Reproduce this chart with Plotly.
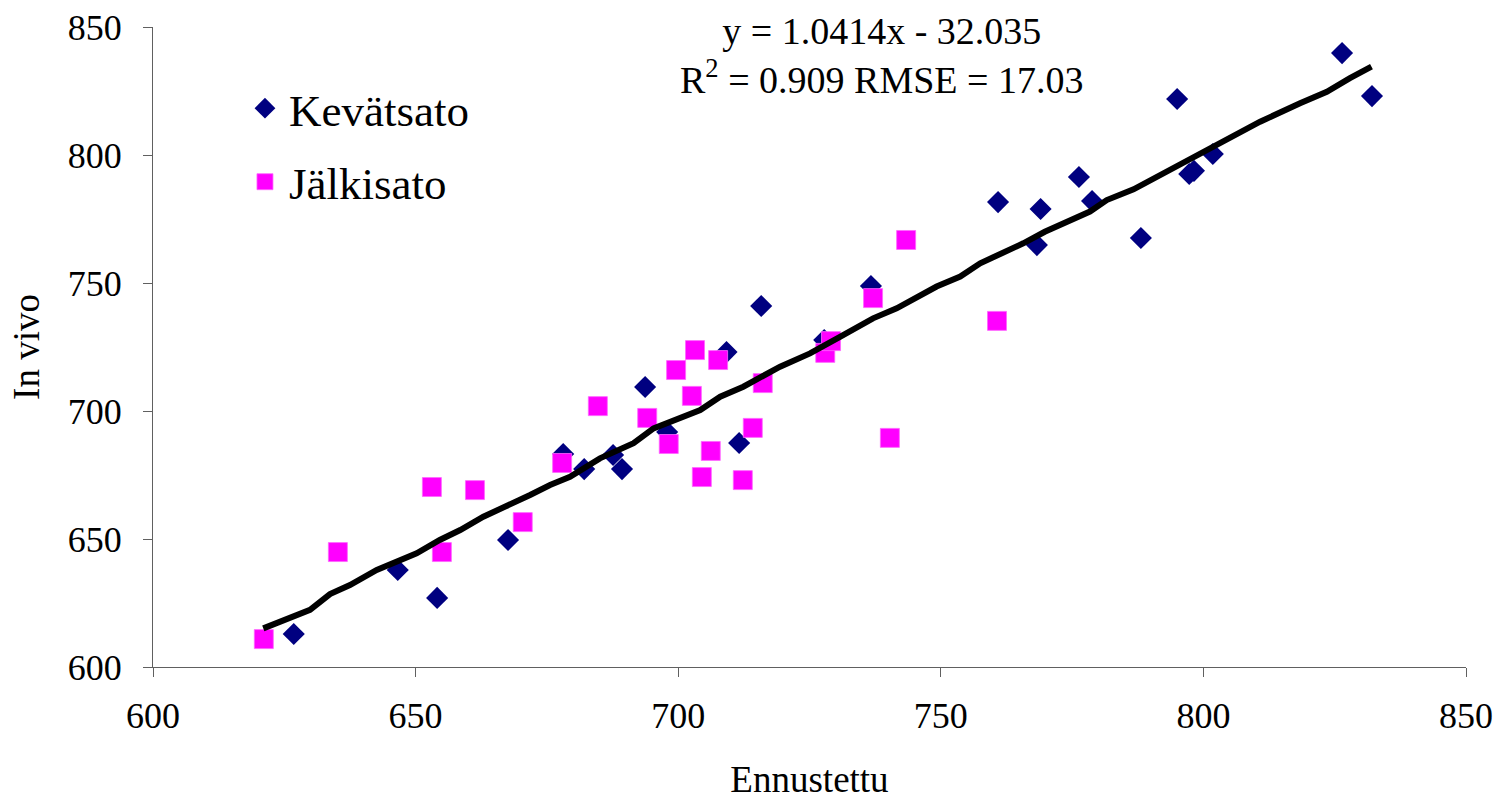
import plotly.graph_objects as go

# Kevätsato (navy diamonds)
kevat_x = [626.8, 646.6, 654.1, 667.6, 678.1, 682.1, 687.6, 689.3, 693.7, 697.9,
           709.2, 711.6, 715.8, 727.8, 736.7, 760.9, 769.0, 768.3, 776.3, 778.8,
           788.1, 795.0, 797.3, 798.2, 801.8, 826.4, 832.1]
kevat_y = [612.9, 637.9, 627.0, 649.6, 683.2, 677.3, 682.8, 677.3, 709.4, 691.8,
           723.0, 687.5, 741.0, 727.7, 748.8, 781.6, 778.9, 764.8, 791.4, 782.0,
           767.6, 821.9, 792.6, 793.8, 800.4, 839.8, 823.0]

# Jälkisato (magenta squares)
jalki_x = [621.1, 635.2, 653.1, 655.0, 661.3, 670.4, 677.9, 684.7, 694.1, 699.6,
           703.2, 707.6, 702.6, 698.2, 706.2, 704.5, 714.2, 712.3, 716.1, 728.0,
           729.1, 743.4, 737.1, 760.7, 740.3]
jalki_y = [610.9, 644.9, 670.3, 644.9, 669.1, 656.6, 679.7, 701.9, 697.3, 716.0,
           723.8, 719.9, 705.9, 687.1, 684.4, 674.2, 693.4, 673.0, 710.9, 722.7,
           727.3, 766.8, 744.1, 735.2, 689.5]

# Fitted line
fit_x = [621.0, 629.9, 633.7, 637.5, 642.6, 650.2, 654.6, 658.5, 662.9, 667.3,
         671.8, 675.6, 679.4, 685.1, 691.5, 695.3, 704.2, 708.0, 712.4, 719.4,
         725.1, 730.8, 737.1, 741.6, 749.2, 753.7, 757.5, 765.7, 769.8, 778.4,
         781.6, 786.7, 791.1, 798.1, 803.2, 810.8, 818.4, 823.5, 827.9, 832.0]
fit_y = [615.1, 622.3, 628.5, 632.0, 637.9, 644.4, 649.6, 653.5, 658.7, 662.6,
         667.2, 671.1, 674.3, 681.5, 687.4, 693.2, 700.4, 705.6, 709.5, 717.3,
         722.5, 729.0, 736.2, 740.1, 748.6, 752.5, 757.7, 765.5, 770.0, 777.9,
         782.4, 786.6, 791.5, 798.7, 804.6, 813.0, 820.2, 824.7, 830.0, 834.5]

x_ticks = [600, 650, 700, 750, 800, 850]
y_ticks = [600, 650, 700, 750, 800, 850]

FONT = "Liberation Serif, Times New Roman, serif"

fig = go.Figure()
fig.add_trace(go.Scatter(
    x=kevat_x, y=kevat_y, mode="markers", name="Kevätsato", legendgroup="a",
    marker=dict(symbol="diamond", size=17, color="#000080",
                line=dict(width=0)),
))
fig.add_trace(go.Scatter(
    x=jalki_x, y=jalki_y, mode="markers", name="Jälkisato", legendgroup="b",
    marker=dict(symbol="square", size=19, color="#FF00FF",
                line=dict(width=0.8, color="#FF66FF")),
))
fig.add_trace(go.Scatter(
    x=fit_x, y=fit_y, mode="lines", showlegend=False,
    line=dict(color="black", width=6),
))

axis_common = dict(
    showgrid=False, zeroline=False, showline=True, linecolor="#606060",
    linewidth=1, ticks="outside", ticklen=9, tickcolor="#606060",
    tickfont=dict(family=FONT, size=36, color="black"),
    automargin=False,
)

fig.update_layout(
    width=1499, height=800,
    margin=dict(l=153, r=33, t=27, b=133),
    paper_bgcolor="white", plot_bgcolor="white",
    font=dict(family=FONT, color="black"),
    xaxis=dict(range=[600, 850], tickvals=x_ticks, ticktext=[str(v) for v in x_ticks],
               ticklabelstandoff=8,
               title=dict(text="Ennustettu", font=dict(family=FONT, size=37), standoff=30),
               **axis_common),
    yaxis=dict(range=[600, 850], tickvals=y_ticks, ticktext=[str(v) for v in y_ticks],
               ticklabelstandoff=14,
               title=dict(text="In vivo", font=dict(family=FONT, size=37), standoff=16),
               **axis_common),
    legend=dict(x=0.067, y=0.929, xanchor="left", yanchor="top",
                font=dict(family=FONT, size=45, color="black"),
                bgcolor="rgba(0,0,0,0)", tracegroupgap=12, traceorder="grouped",
                itemwidth=38),
    annotations=[dict(
        text="y = 1.0414x - 32.035<br>R<sup>2</sup> = 0.909 RMSE = 17.03",
        xref="paper", yref="paper", x=0.555, y=0.956, xanchor="center", yanchor="middle",
        showarrow=False, align="center",
        font=dict(family=FONT, size=38, color="black"),
    )],
)

fig.write_html("out.html")
